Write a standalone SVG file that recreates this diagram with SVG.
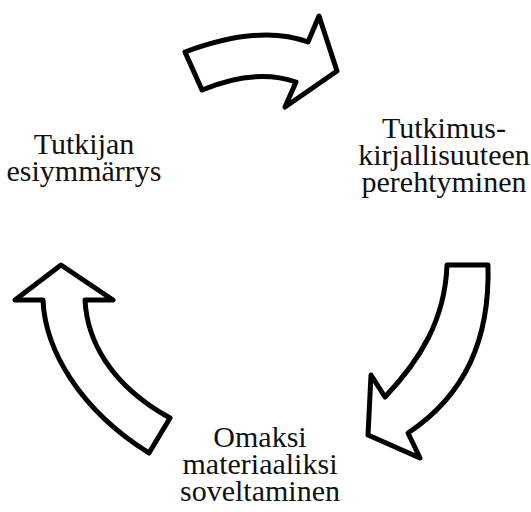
<svg xmlns="http://www.w3.org/2000/svg" width="531" height="512" viewBox="0 0 531 512">
<style>
.arrow{fill:#fff;stroke:#000;stroke-width:5;stroke-linejoin:round}
text{font-family:"Liberation Serif","Times New Roman",serif;font-size:30px;fill:#111;text-anchor:middle}
</style>
<rect width="531" height="512" fill="#fff"/>
<g id="connectors">
<path id="arrow-top" class="arrow" d="M185,52 Q260,24 308,42 L319,16 L337,71 L285,107 L296,82 Q255,68 202,90 Z"/>
<path id="arrow-right" class="arrow" d="M447,265 L488,265 C490,340 465,395 408,433 L420,458 L368,435 L371,375 L385,397 C420,360 445,320 447,265 Z"/>
<path id="arrow-left" class="arrow" d="M61,265 L113,300 L85,300 C87,340 110,385 170,418 L149,453 C80,410 45,350 43,300 L15,300 Z"/>
</g>
<g id="node-esiymmarrys">
<text x="84" y="154">Tutkijan</text>
<text x="84" y="181">esiymmärrys</text>
</g>
<g id="node-kirjallisuus">
<text x="444" y="138">Tutkimus-</text>
<text x="444" y="165">kirjallisuuteen</text>
<text x="444" y="192">perehtyminen</text>
</g>
<g id="node-soveltaminen">
<text x="260" y="447">Omaksi</text>
<text x="260" y="474">materiaaliksi</text>
<text x="260" y="501">soveltaminen</text>
</g>
</svg>
